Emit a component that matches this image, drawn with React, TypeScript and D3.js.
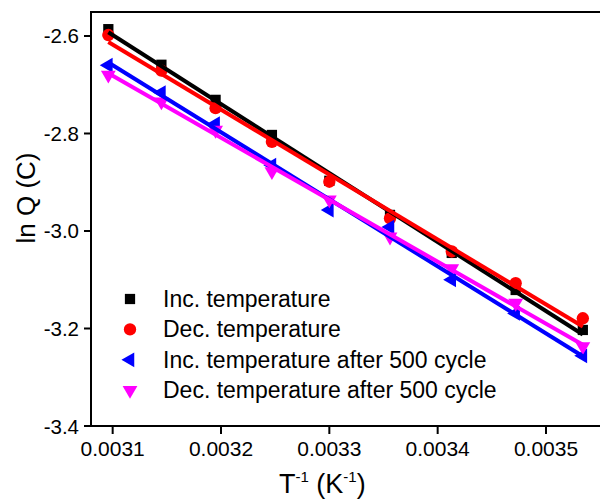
import React from "react";
import * as d3 from "d3";

// Inverse temperature (K^-1)
const invT = [0.003096, 0.003145, 0.003195, 0.003247, 0.0033, 0.003356, 0.003413, 0.003472, 0.003534];
// ln Q (C)
const incTemp = [-2.586, -2.659, -2.731, -2.803, -2.897, -2.967, -3.045, -3.121, -3.203];
const decTemp = [-2.598, -2.671, -2.748, -2.817, -2.899, -2.974, -3.042, -3.107, -3.179];
const incAfter = [-2.66, -2.716, -2.78, -2.865, -2.957, -2.992, -3.1, -3.169, -3.256];
const decAfter = [-2.68, -2.735, -2.793, -2.878, -2.936, -3.012, -3.077, -3.148, -3.237];

const seriesNames = [
  "Inc. temperature",
  "Dec. temperature",
  "Inc. temperature after 500 cycle",
  "Dec. temperature after 500 cycle",
];
const xTicks = [0.0031, 0.0032, 0.0033, 0.0034, 0.0035];
const yTicks = [-2.6, -2.8, -3.0, -3.2, -3.4];

const W = 600;
const H = 500;
const left = 91;
const top = 12;
const right = 611;
const bottom = 426;
const FONT = "'Liberation Sans', Arial, sans-serif";

const x = d3.scaleLinear().domain([0.00308, 0.00356]).range([left, right]);
const y = d3.scaleLinear().domain([-3.4, -2.5508]).range([bottom, top]);

type Series = { name: string; values: number[]; color: string; shape: d3.SymbolType; rot: number; size: number };
const series: Series[] = [
  { name: seriesNames[0], values: incTemp, color: "#000000", shape: d3.symbolSquare, rot: 0, size: 105 },
  { name: seriesNames[1], values: decTemp, color: "#ff0000", shape: d3.symbolCircle, rot: 0, size: 120 },
  { name: seriesNames[2], values: incAfter, color: "#0000ff", shape: d3.symbolTriangle, rot: -90, size: 95 },
  { name: seriesNames[3], values: decAfter, color: "#ff00ff", shape: d3.symbolTriangle, rot: 180, size: 95 },
];

function fit(xs: number[], ys: number[]) {
  const mx = d3.mean(xs)!;
  const my = d3.mean(ys)!;
  let num = 0;
  let den = 0;
  xs.forEach((xv, i) => {
    num += (xv - mx) * (ys[i] - my);
    den += (xv - mx) * (xv - mx);
  });
  const b = num / den;
  const a = my - b * mx;
  return (v: number) => a + b * v;
}

export default function App() {
  const line = d3.line<[number, number]>().x((d) => x(d[0])).y((d) => y(d[1]));
  const x0 = invT[0];
  const x1 = invT[invT.length - 1];
  const legendY0 = 299;
  const legendDy = 30.4;
  return (
    <svg width={W} height={H} style={{ position: "absolute", left: 0, top: 0, background: "#fff" }} fontFamily={FONT}>
      <rect x={0} y={0} width={W} height={H} fill="#fff" />
      {/* frame */}
      <rect x={left} y={top} width={right - left} height={bottom - top} fill="none" stroke="#000" strokeWidth={2} />
      {/* y ticks */}
      {yTicks.map((t) => (
        <g key={t}>
          <line x1={left - 7} x2={left} y1={y(t)} y2={y(t)} stroke="#000" strokeWidth={2} />
          <text x={left - 12} y={y(t)} textAnchor="end" dominantBaseline="central" fontSize={20.5}>
            {d3.format(".1f")(t).replace("−", "-")}
          </text>
        </g>
      ))}
      {/* x ticks */}
      {xTicks.map((t) => (
        <g key={t}>
          <line x1={x(t)} x2={x(t)} y1={bottom} y2={bottom + 8} stroke="#000" strokeWidth={2} />
          <text x={x(t)} y={456} textAnchor="middle" fontSize={21}>
            {t.toFixed(4)}
          </text>
        </g>
      ))}
      {/* axis titles */}
      <text transform="translate(35,198) rotate(-90)" textAnchor="middle" fontSize={26}>
        ln Q (C)
      </text>
      <text x={279} y={493} fontSize={27}>
        T<tspan fontSize={15} dy={-11}>-1</tspan>
        <tspan dy={11}> (K</tspan>
        <tspan fontSize={15} dy={-11}>-1</tspan>
        <tspan dy={11}>)</tspan>
      </text>
      {/* markers */}
      {series.map((s) => (
        <g key={s.name + "m"} fill={s.color}>
          {s.values.map((v, i) => (
            <path
              key={i}
              d={d3.symbol().type(s.shape).size(s.size)()!}
              transform={`translate(${x(invT[i])},${y(v)}) rotate(${s.rot})`}
            />
          ))}
        </g>
      ))}
      {/* fit lines */}
      {series.map((s) => {
        const f = fit(invT, s.values);
        return (
          <path
            key={s.name + "l"}
            d={line([[x0, f(x0)], [x1, f(x1)]])!}
            stroke={s.color}
            strokeWidth={4}
            fill="none"
          />
        );
      })}
      {/* legend */}
      {series.map((s, i) => (
        <g key={s.name + "g"} transform={`translate(0,${legendY0 + i * legendDy})`}>
          <path
            d={d3.symbol().type(s.shape).size(s.size)()!}
            transform={`translate(130,0) rotate(${s.rot})`}
            fill={s.color}
          />
          <text x={163} y={0} dominantBaseline="central" fontSize={23}>
            {s.name}
          </text>
        </g>
      ))}
    </svg>
  );
}
